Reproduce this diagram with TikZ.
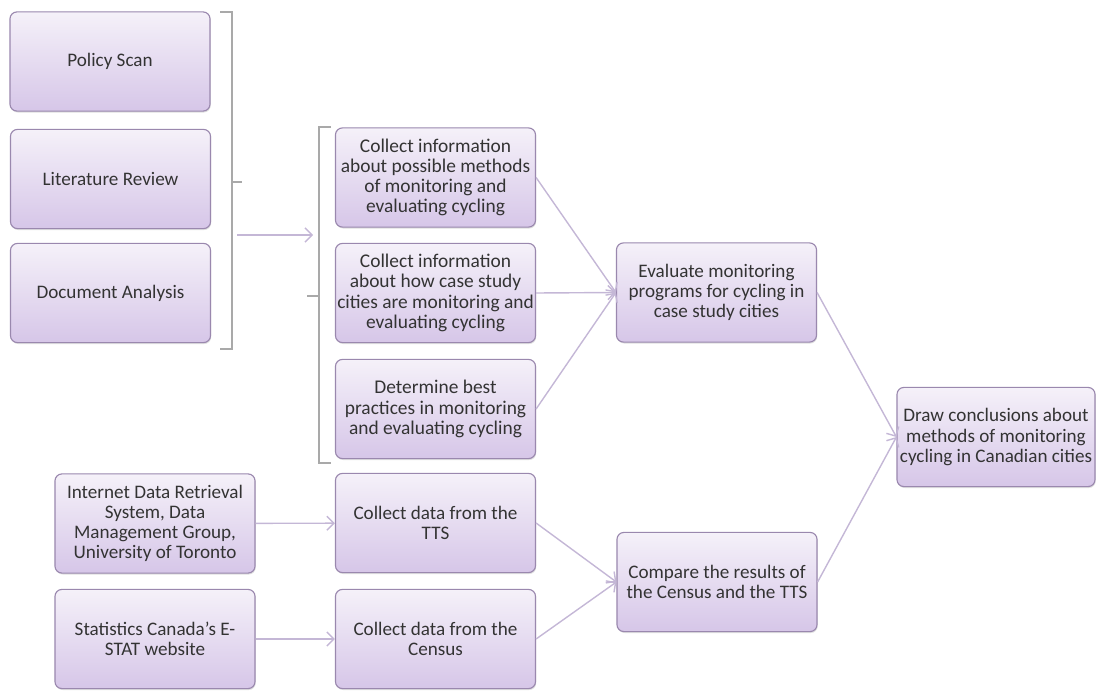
\documentclass[tikz,border=0pt]{standalone}
\usepackage{fontspec}
\setmainfont{Carlito}
\usetikzlibrary{calc,arrows.meta,shadows}
\definecolor{boxline}{HTML}{9A88AE}
\definecolor{boxtop}{HTML}{F5F1F9}
\definecolor{boxbot}{HTML}{D6C6E8}
\definecolor{flow}{HTML}{C4B7D6}
\definecolor{brk}{HTML}{A9A9A9}
\definecolor{txt}{HTML}{333333}
\tikzset{
  box/.style={draw=boxline,line width=.8pt,rounded corners=5pt,top color=boxtop,bottom color=boxbot,
    align=center,text=txt,inner xsep=0pt,inner ysep=2pt,minimum width=5cm,minimum height=2.48cm,
    font=\fontsize{13.6}{14.4}\selectfont,
    drop shadow={opacity=.25,shadow xshift=.5pt,shadow yshift=-1pt}},
  bigtext/.style={font=\fontsize{13.8}{14.4}\selectfont},
  flowto/.style={draw=flow,line width=1pt,-{Straight Barb[length=5pt,width=10pt]}},
  bracket/.style={draw=brk,line width=1pt}
}
\begin{document}
\begin{tikzpicture}[x=0.025cm,y=-0.025cm]
      \useasboundingbox (0,0) rectangle (1096,690);
      % sources
      \node[box](ps)at(110,61.5){Policy Scan};
      \node[box](lr)at(110.5,179){Literature Review};
      \node[box](da)at(110.5,293){Document Analysis};
      \coordinate(b1t)at(232,12);
      \coordinate(b1b)at(232,349);
      \coordinate(b1m)at(232,182);
      \draw[bracket]($(b1t)+(-12,0)$)--(b1t)--(b1b)--($(b1b)+(-12,0)$) (b1m)--($(b1m)+(10,0)$);
      \coordinate(a1)at(237,235);
      \coordinate(a2)at(313,235);
      \draw[flowto](a1)--(a2);
      % literature tasks
      \coordinate(b2t)at(319,127);
      \coordinate(b2b)at(319,463);
      \coordinate(b2m)at(319,296);
      \draw[bracket]($(b2t)+(12,0)$)--(b2t)--(b2b)--($(b2b)+(12,0)$) (b2m)--($(b2m)+(-12,0)$);
      \node[box,bigtext](m1)at(435.5,177.5){Collect information\\about possible methods\\of monitoring and\\evaluating cycling};
      \node[box,bigtext](m2)at(435.5,293){Collect information\\about how case study\\cities are monitoring and\\evaluating cycling};
      \node[box,bigtext](m3)at(435.5,409){Determine best\\practices in monitoring\\and evaluating cycling};
      \node[box](ev)at(716.5,292.5){Evaluate monitoring\\programs for cycling in\\case study cities};
      % data
      \node[box](idr)at(155,523.5){Internet Data Retrieval\\System, Data\\Management Group,\\University of Toronto};
      \node[box](sc)at(155,639){Statistics Canada’s E-\\STAT website};
      \node[box](tts)at(435.5,523){Collect data from the\\TTS};
      \node[box](cen)at(435.5,639){Collect data from the\\Census};
      \node[box](cmp)at(717,582){Compare the results of\\the Census and the TTS};
      \node[box,minimum width=4.95cm](dc)at(996,437){Draw conclusions about\\methods of monitoring\\cycling in Canadian cities};
      \draw[flowto](m1.east)--(ev.west);
      \draw[flowto](m2.east)--(ev.west);
      \draw[flowto](m3.east)--(ev.west);
      \draw[flowto](idr)--(tts);
      \draw[flowto](sc)--(cen);
      \draw[flowto](tts.east)--(cmp.west);
      \draw[flowto](cen.east)--(cmp.west);
      \draw[flowto](ev.east)--(dc.west);
      \draw[flowto](cmp.east)--(dc.west);
\end{tikzpicture}
\end{document}
